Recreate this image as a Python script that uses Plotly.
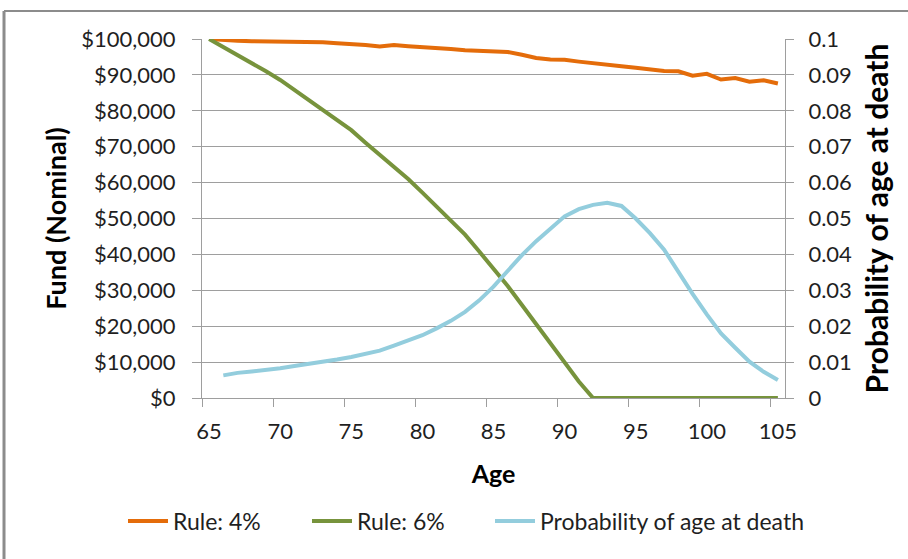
import plotly.graph_objects as go

# Ages (one category per year)
ages = list(range(65, 106))

# Fund balance under a 4% withdrawal rule (nominal $)
rule_4 = [100000, 99700, 99500, 99400, 99350, 99300, 99200, 99100, 99100, 98800,
          98600, 98300, 97900, 98300, 98000, 97800, 97500, 97200, 96900, 96700,
          96400, 96400, 95600, 94700, 94300, 94200, 93700, 93200, 92800, 92400,
          92000, 91600, 91100, 91000, 89800, 90300, 88700, 89100, 88100, 88500,
          87600]

# Fund balance under a 6% withdrawal rule (nominal $)
rule_6 = [100000, 97800, 95500, 93300, 91000, 88600, 85800, 83000, 80200, 77400,
          74600, 71100, 67800, 64400, 61000, 57200, 53400, 49500, 45500, 40800,
          36100, 31200, 25900, 20600, 15300, 9800, 4600, 0, 0, 0,
          0, 0, 0, 0, 0, 0, 0, 0, 0, 0,
          0]

# Probability of age at death (no value for age 65)
p_death = [None, 0.0063, 0.0070, 0.0074, 0.0078, 0.0083, 0.0089, 0.0095, 0.0099, 0.0107,
           0.0114, 0.0123, 0.0132, 0.0146, 0.0160, 0.0175, 0.0194, 0.0215, 0.0240, 0.0272,
           0.0310, 0.0355, 0.0398, 0.0437, 0.0472, 0.0506, 0.0526, 0.0538, 0.0544, 0.0535,
           0.0500, 0.0459, 0.0413, 0.0350, 0.0290, 0.0233, 0.0180, 0.0140, 0.0101, 0.0073,
           0.0050]

x_labels = list(range(65, 106, 5))

FONT = "Lato"
TXT = "#1f1f1f"
GRID = "#9e9e9e"

fig = go.Figure()
fig.add_trace(go.Scatter(x=ages, y=rule_4, mode="lines", name="Rule: 4%",
                         line=dict(color="#E46C0A", width=4), legend="legend"))
fig.add_trace(go.Scatter(x=ages, y=rule_6, mode="lines", name="Rule: 6%",
                         line=dict(color="#77933C", width=4), legend="legend2"))
fig.add_trace(go.Scatter(x=ages, y=p_death, mode="lines", name="Probability of age at death",
                         line=dict(color="#93CDDD", width=4), yaxis="y2", legend="legend3"))


def legend_box(x):
    # one single-entry legend per series, laid out along the bottom
    return dict(orientation="h", x=x, xanchor="left", y=-0.343, yanchor="middle",
                font=dict(family=FONT, size=23, color=TXT), itemwidth=40,
                bgcolor="rgba(0,0,0,0)")


fig.update_layout(
    width=908, height=559,
    margin=dict(l=202, r=123, t=39, b=161),
    paper_bgcolor="white", plot_bgcolor="white",
    font=dict(family=FONT, size=22, color=TXT),
    showlegend=True,
    legend=legend_box(-0.1355),
    legend2=legend_box(0.1801),
    legend3=legend_box(0.494),
    xaxis=dict(
        range=[64.5, 105.5], tickmode="array", tickvals=x_labels,
        ticks="", showgrid=False, zeroline=False,
        showline=True, linecolor=GRID, linewidth=1,
        minor=dict(tickmode="linear", tick0=64.5, dtick=5, ticks="outside",
                   ticklen=8, tickcolor=GRID, showgrid=False),
        tickfont=dict(family=FONT, size=22, color=TXT),
        ticklabelstandoff=14,
        title=dict(text="<b>Age</b>", font=dict(family=FONT, size=25, color="#000"),
                   standoff=22),
    ),
    yaxis=dict(
        range=[0, 100000], dtick=10000, tickprefix="$", tickformat=",d",
        showgrid=True, gridcolor=GRID, gridwidth=1, zeroline=False,
        showline=True, linecolor=GRID, linewidth=1,
        ticks="outside", ticklen=9, tickcolor=GRID,
        tickfont=dict(family=FONT, size=22, color=TXT),
        ticklabelstandoff=12,
        title=dict(text="<b>Fund (Nominal)</b>", font=dict(family=FONT, size=27, color="#000"),
                   standoff=6),
    ),
    yaxis2=dict(
        range=[0, 0.1], dtick=0.01, overlaying="y", side="right",
        showgrid=False, zeroline=False,
        showline=True, linecolor=GRID, linewidth=1,
        ticks="outside", ticklen=8, tickcolor=GRID,
        tickfont=dict(family=FONT, size=22, color=TXT),
        ticklabelstandoff=10,
        title=dict(text="<b>Probability of age at death</b>",
                   font=dict(family=FONT, size=30, color="#000"), standoff=15),
    ),
)

# Chart frame (left and top edges)
fig.add_shape(type="line", xref="paper", yref="paper",
              x0=-0.3396, x1=-0.3396, y0=1.078, y1=-0.46,
              line=dict(color="#8c8c8c", width=3))
fig.add_shape(type="line", xref="paper", yref="paper",
              x0=-0.3396, x1=1.22, y0=1.078, y1=1.078,
              line=dict(color="#8c8c8c", width=2))

fig.write_html("out.html")
